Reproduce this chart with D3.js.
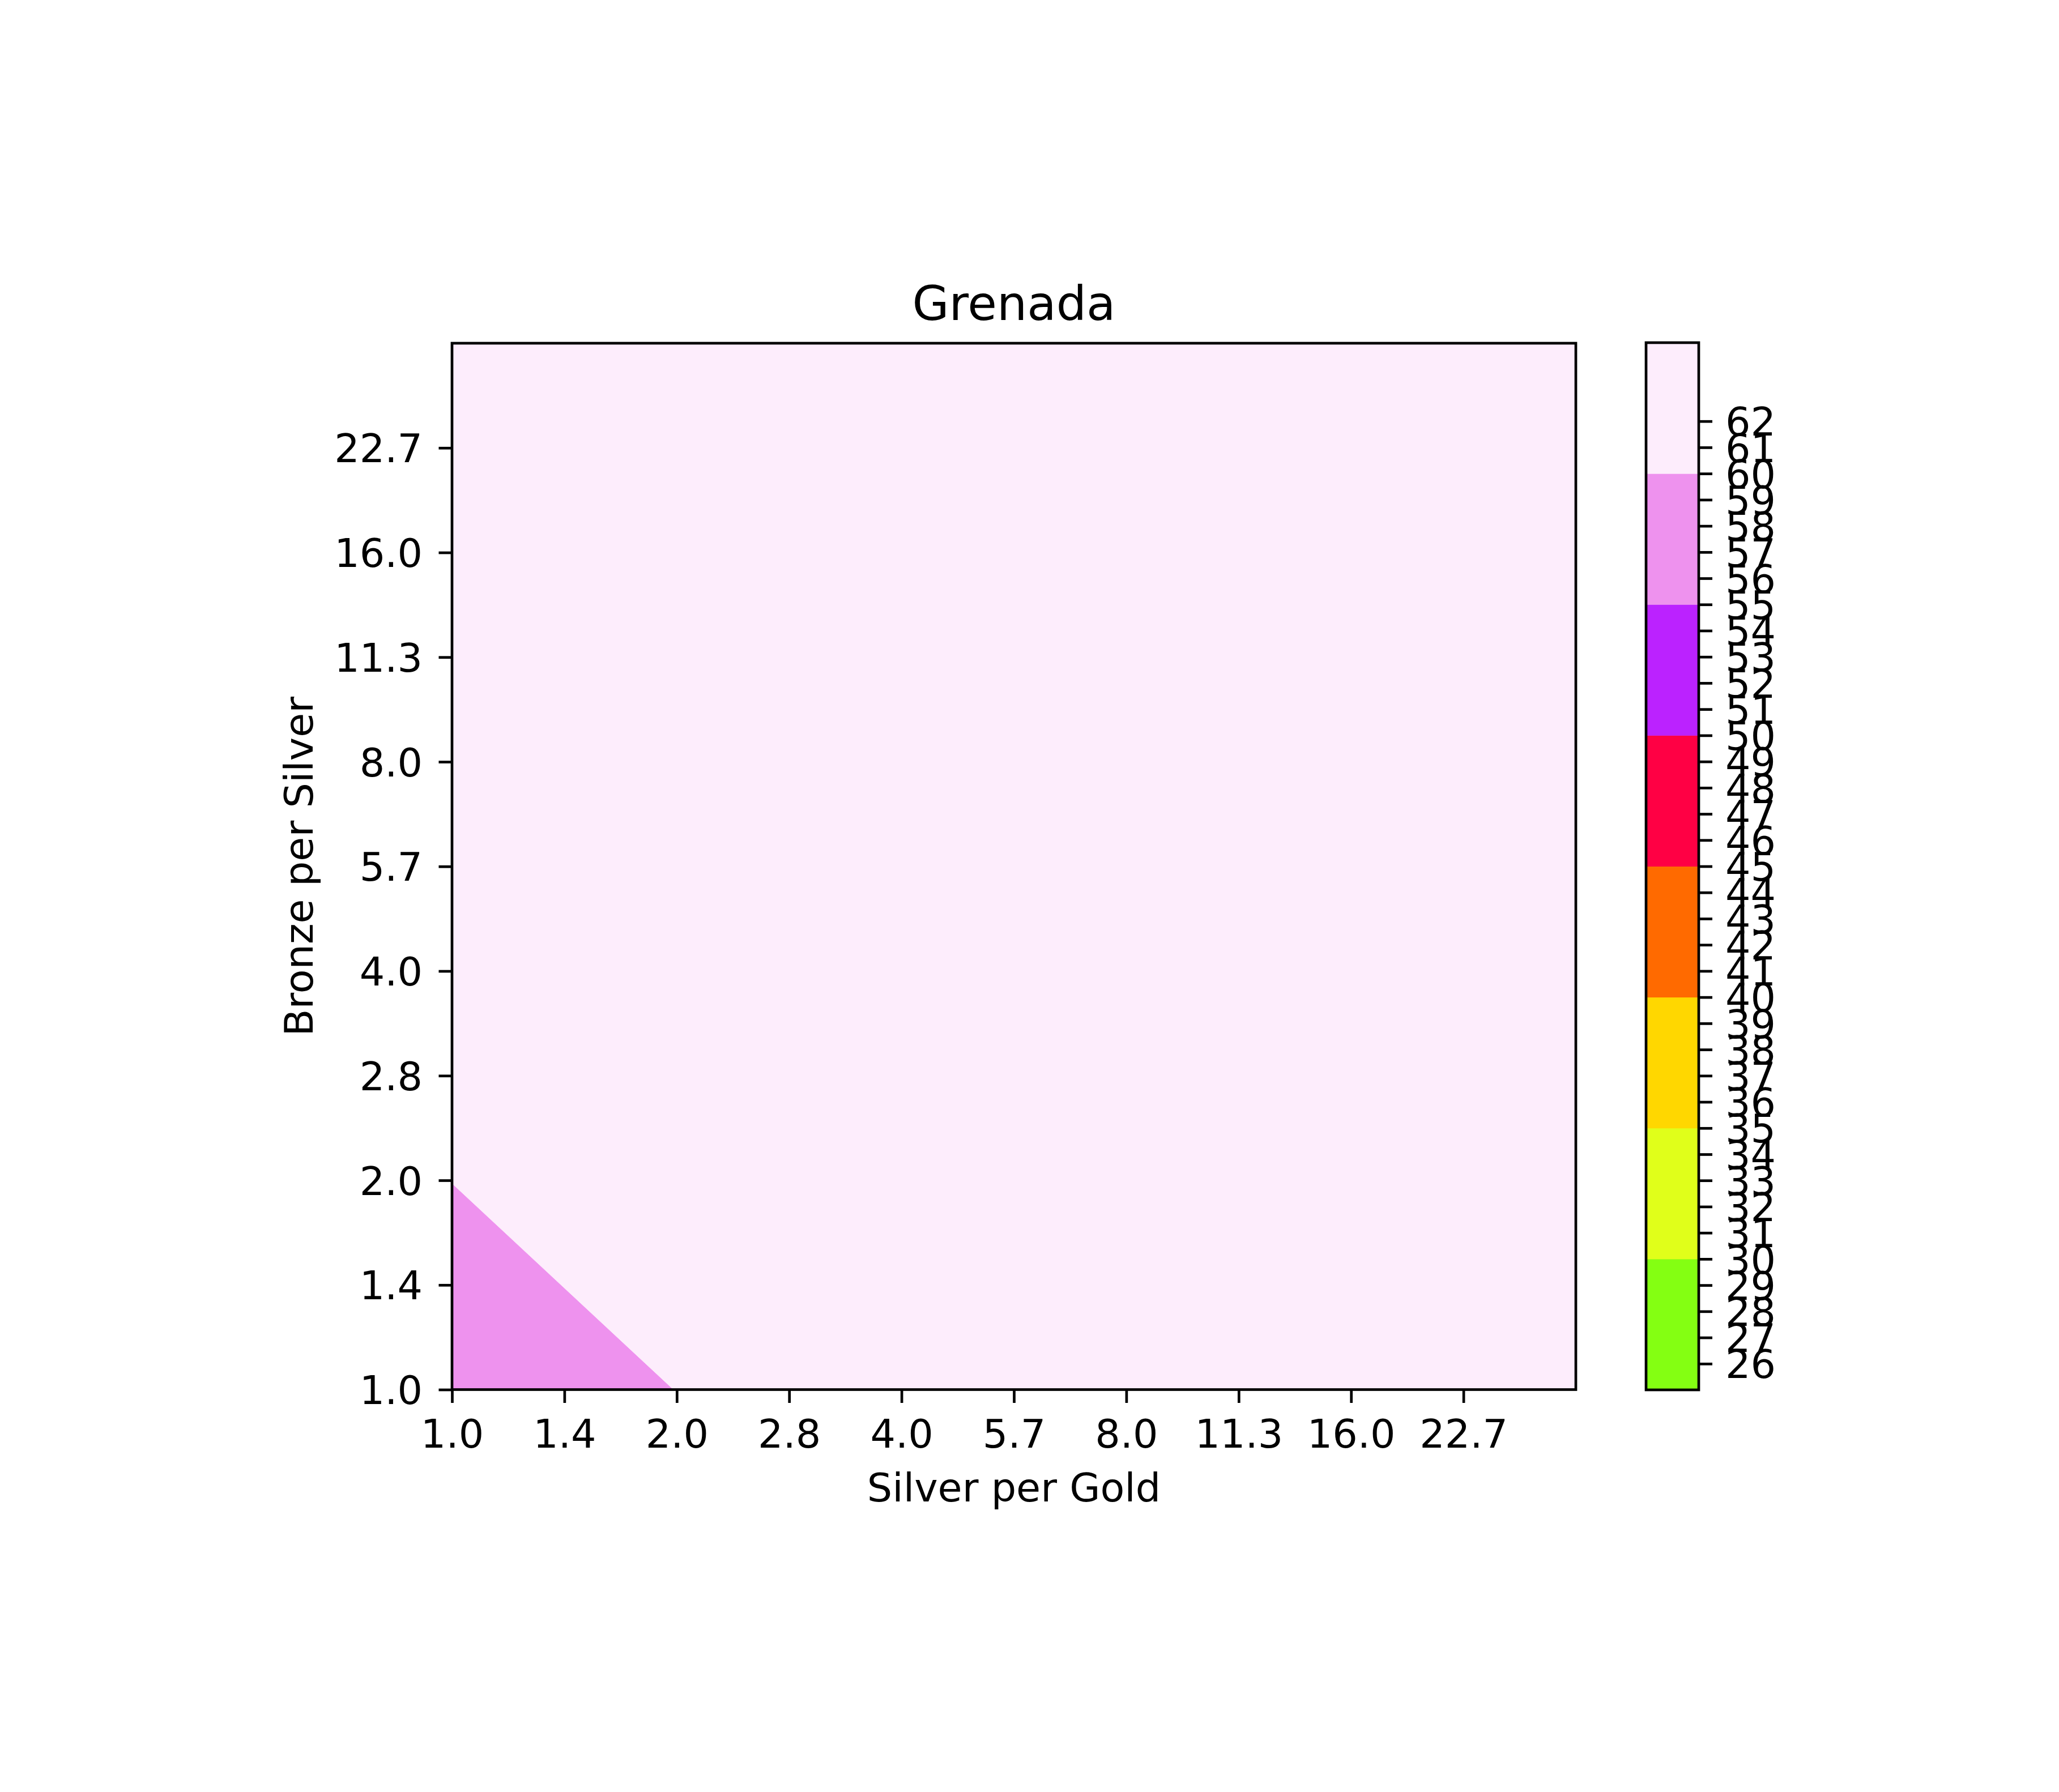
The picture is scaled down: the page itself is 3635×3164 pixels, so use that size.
<!DOCTYPE html>
<html>
<head>
<meta charset="utf-8">
<script src="https://cdn.jsdelivr.net/npm/d3@7"></script>
<style>
html, body { margin: 0; padding: 0; background: #ffffff; }
svg { display: block; }
</style>
</head>
<body>
<script>
// ---------------- data ----------------
const chartTitle = "Grenada";
const xLabel = "Silver per Gold";
const yLabel = "Bronze per Silver";

// grid sample positions
const silverPerGold = [1, 2, 4, 8, 16, 32];
const bronzePerSilver = [1, 2, 4, 8, 16, 32];

// score grid: one row per bronzePerSilver value, one column per silverPerGold value
const scoreRow0 = [56.0, 60.06, 61.0, 61.5, 61.8, 62.0];
const scoreRow1 = [60.06, 61.0, 61.5, 61.8, 62.0, 62.0];
const scoreRow2 = [61.0, 61.5, 61.8, 62.0, 62.0, 62.0];
const scoreRow3 = [61.5, 61.8, 62.0, 62.0, 62.0, 62.0];
const scoreRow4 = [61.8, 62.0, 62.0, 62.0, 62.0, 62.0];
const scoreRow5 = [62.0, 62.0, 62.0, 62.0, 62.0, 62.0];
const scoreRows = [scoreRow0, scoreRow1, scoreRow2, scoreRow3, scoreRow4, scoreRow5];

// contour levels and band colours
const levels = [25, 30, 35, 40, 45, 50, 55, 60, 65];
const bandColors = ["#84ff12", "#e0ff1a", "#ffd700", "#ff6a00", "#ff0044", "#bb22ff", "#ee92ee", "#fdedfc"];

// tick values / labels
const axisTickValues = [1, 1.41421, 2, 2.82843, 4, 5.65685, 8, 11.3137, 16, 22.6274];
const axisTickLabels = ["1.0", "1.4", "2.0", "2.8", "4.0", "5.7", "8.0", "11.3", "16.0", "22.7"];
const colorbarTicks = [26, 27, 28, 29, 30, 31, 32, 33, 34, 35, 36, 37, 38, 39, 40, 41, 42, 43, 44,
                       45, 46, 47, 48, 49, 50, 51, 52, 53, 54, 55, 56, 57, 58, 59, 60, 61, 62];

// ---------------- layout ----------------
const W = 3635, H = 3164;
const plot = { left: 798, right: 2782, top: 606, bottom: 2453.5 };
const cbar = { left: 2906, right: 2999, top: 605, bottom: 2454 };
const font = "DejaVu Sans";
const tickFont = 70;
const lw = 4.7;
const tickLen = 23.5;

const svg = d3.select("body").append("svg")
  .attr("width", W).attr("height", H)
  .attr("viewBox", `0 0 ${W} ${H}`)
  .style("font-family", font);

svg.append("rect").attr("width", W).attr("height", H).attr("fill", "#ffffff");

const xs = d3.scaleLog().base(2).domain([1, 32]).range([plot.left, plot.right]);
const ys = d3.scaleLog().base(2).domain([1, 32]).range([plot.bottom, plot.top]);

// ---------------- filled contours ----------------
const nx = silverPerGold.length, ny = bronzePerSilver.length;
const flat = [];
scoreRows.forEach(r => r.forEach(v => flat.push(v)));

const contourGen = d3.contours().size([nx, ny]).thresholds(levels.slice(0, -1));
const contourSet = contourGen(flat);

// grid index -> log2 of ratio (piecewise linear, extrapolating at the ends)
const ixToLog = d3.scaleLinear().domain(d3.range(nx)).range(silverPerGold.map(Math.log2));
const iyToLog = d3.scaleLinear().domain(d3.range(ny)).range(bronzePerSilver.map(Math.log2));

const gridProj = d3.geoTransform({
  point: function (cx, cy) {
    const lx = ixToLog(cx - 0.5), ly = iyToLog(cy - 0.5);
    this.stream.point(xs(Math.pow(2, lx)), ys(Math.pow(2, ly)));
  }
});
const path = d3.geoPath(gridProj);

svg.append("clipPath").attr("id", "plotClip")
  .append("rect")
  .attr("x", plot.left).attr("y", plot.top)
  .attr("width", plot.right - plot.left).attr("height", plot.bottom - plot.top);

svg.append("g").attr("clip-path", "url(#plotClip)")
  .selectAll("path").data(contourSet).join("path")
  .attr("d", path)
  .attr("fill", d => bandColors[levels.indexOf(d.value)])
  .attr("stroke", d => bandColors[levels.indexOf(d.value)])
  .attr("stroke-width", 0.8);

// ---------------- axes ----------------
function styleAxis(g) {
  g.select(".domain").remove();
  g.selectAll(".tick line").attr("stroke", "#000").attr("stroke-width", lw);
  g.selectAll(".tick text").attr("fill", "#000")
    .style("font-family", font).style("font-size", tickFont + "px");
}

const xAxis = d3.axisBottom(xs)
  .tickValues(axisTickValues)
  .tickFormat((d, i) => axisTickLabels[i])
  .tickSize(tickLen).tickSizeOuter(0).tickPadding(29.3);
svg.append("g").attr("transform", `translate(0,${plot.bottom})`).call(xAxis).call(styleAxis);

const yAxis = d3.axisLeft(ys)
  .tickValues(axisTickValues)
  .tickFormat((d, i) => axisTickLabels[i])
  .tickSize(tickLen).tickSizeOuter(0).tickPadding(28.5);
svg.append("g").attr("transform", `translate(${plot.left},0)`).call(yAxis).call(styleAxis)
  .selectAll(".tick text").attr("dy", "0.36em");

// spines
svg.append("rect")
  .attr("x", plot.left).attr("y", plot.top)
  .attr("width", plot.right - plot.left).attr("height", plot.bottom - plot.top)
  .attr("fill", "none").attr("stroke", "#000").attr("stroke-width", lw);

// ---------------- colorbar ----------------
const cs = d3.scaleLinear().domain([levels[0], levels[levels.length - 1]]).range([cbar.bottom, cbar.top]);
const bands = levels.slice(0, -1).map((lo, i) => ({ lo: lo, hi: levels[i + 1], color: bandColors[i] }));
svg.append("g").selectAll("rect").data(bands).join("rect")
  .attr("x", cbar.left)
  .attr("width", cbar.right - cbar.left)
  .attr("y", d => cs(d.hi))
  .attr("height", d => cs(d.lo) - cs(d.hi) + 0.5)
  .attr("fill", d => d.color);

const cAxis = d3.axisRight(cs)
  .tickValues(colorbarTicks)
  .tickFormat(d3.format("d"))
  .tickSize(24).tickSizeOuter(0).tickPadding(23);
svg.append("g").attr("transform", `translate(${cbar.right},0)`).call(cAxis).call(styleAxis)
  .selectAll(".tick text").attr("dy", "0.36em");

svg.append("rect")
  .attr("x", cbar.left).attr("y", cbar.top)
  .attr("width", cbar.right - cbar.left).attr("height", cbar.bottom - cbar.top)
  .attr("fill", "none").attr("stroke", "#000").attr("stroke-width", lw);

// ---------------- labels ----------------
svg.append("text")
  .attr("x", (plot.left + plot.right) / 2).attr("y", 565)
  .attr("text-anchor", "middle")
  .style("font-size", "84px").attr("fill", "#000")
  .text(chartTitle);

svg.append("text")
  .attr("x", (plot.left + plot.right) / 2).attr("y", 2651)
  .attr("text-anchor", "middle")
  .style("font-size", tickFont + "px").attr("fill", "#000")
  .text(xLabel);

svg.append("text")
  .attr("transform", `translate(552,${(plot.top + plot.bottom) / 2}) rotate(-90)`)
  .attr("text-anchor", "middle")
  .style("font-size", tickFont + "px").attr("fill", "#000")
  .text(yLabel);
</script>
</body>
</html>
